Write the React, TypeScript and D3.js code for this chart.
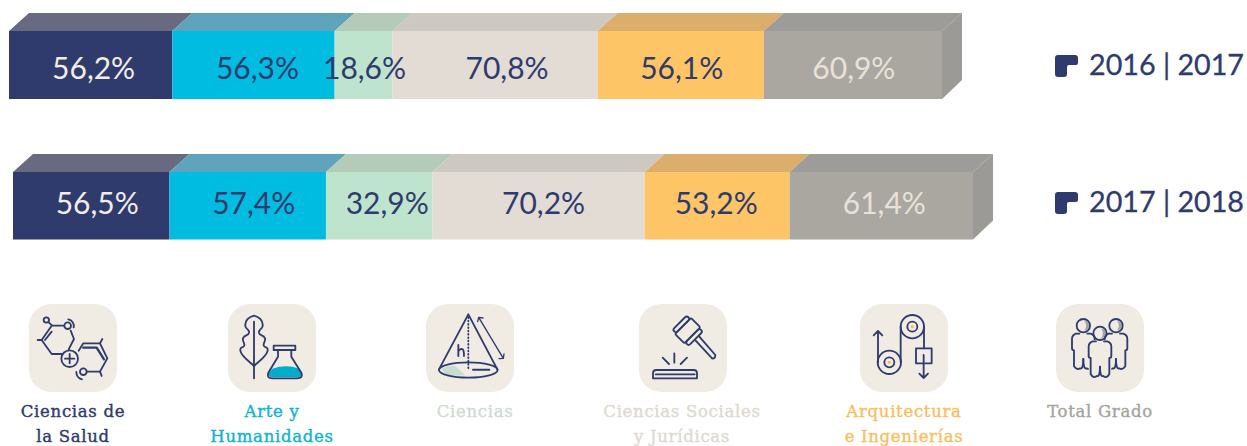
import React from "react";
import * as d3 from "d3";

const categories = ["Ciencias de la Salud", "Arte y Humanidades", "Ciencias", "Ciencias Sociales y Jurídicas", "Arquitectura e Ingenierías", "Total Grado"];
const categoryLines = [["Ciencias de", "la Salud"], ["Arte y", "Humanidades"], ["Ciencias"], ["Ciencias Sociales", "y Jurídicas"], ["Arquitectura", "e Ingenierías"], ["Total Grado"]];
const courses = ["2016 | 2017", "2017 | 2018"];
const values2016 = [56.2, 56.3, 18.6, 70.8, 56.1, 60.9];
const values2017 = [56.5, 57.4, 32.9, 70.2, 53.2, 61.4];
// The printed segments are not proportional to their labels, so their lengths are read separately (share of bar, %).
const shares2016 = [17.5, 17.4, 6.2, 22.0, 17.8, 19.1];
const shares2017 = [16.3, 16.3, 11.1, 22.1, 15.1, 19.1];
const frontColors = ["#2f3b6d", "#00bce1", "#bfe4cd", "#e2dcd5", "#fdc566", "#aaa6a0"];
const topColors = ["#676a80", "#5fa4ba", "#b5cbb9", "#cdc8c1", "#dcae6b", "#9e9c98"];
const valueColors = ["#f1ede6", "#2f3b6d", "#2f3b6d", "#2f3b6d", "#2f3b6d", "#e6e2da"];
const titleColors = ["#2f3b6d", "#12b3cf", "#cfdcd3", "#dedad3", "#f7bf62", "#a6a39d"];

const NAVY = "#2f3b6d";
const rows = [
  { values: values2016, shares: shares2016, x0: 9, x1: 942, yTop: 13, yFront: 31, yBottom: 99, baseline: 79, nudge: [3, 4, 1, 12, 1, 1], legendY: 55 },
  { values: values2017, shares: shares2017, x0: 13, x1: 973, yTop: 154, yFront: 172, yBottom: 239.5, baseline: 214, nudge: [6, 6, 8, 5, -1, 3], legendY: 192 },
];
const tileX = [29, 228, 426, 639, 860, 1056];
const titleX = [73, 272, 475, 682, 904, 1100];
const DEPTH = 20;

const line = { fill: "none", stroke: NAVY, strokeWidth: 5.5, strokeLinecap: "round", strokeLinejoin: "round" } as const;

// icon glyphs are drawn in a 3x grid whose origin is the tile corner
const Icon0 = () => (
  <g transform="translate(-87,-42)" {...line}>
    <circle cx="139" cy="90" r="8" />
    <path d="M146 97L157 107H190M212 122L222 147L206 178M185 192H155L125 150L155 107M135 150L155 125M113 150H125" />
    <circle cx="203" cy="107" r="10" /><path d="M205 88A20 20 0 0 1 221 112" />
    <circle cx="209" cy="206" r="25" /><path d="M209 192V220M195 206H223" />
    <path d="M236 182L250 160H300L322 205L300 245H262" /><path d="M300 160L307 147M300 245L305 258" />
    <circle cx="250" cy="245" r="10" /><path d="M246 268A22 22 0 0 1 229 246" />
    <path d="M250 173H290L312 208" strokeWidth="7" />
  </g>
);
const Icon1 = () => (
  <g transform="translate(-685,-42)" {...line}>
    <path d="M763 95V265" />
    <path d="M763 77C748 80 735 92 737 108C738 118 750 118 748 128C745 140 735 132 730 145C727 155 738 160 733 168C728 175 720 170 722 182C725 200 750 215 763 228C776 215 801 200 804 182C806 170 798 175 793 168C788 160 799 155 796 145C791 132 781 140 778 128C776 118 788 118 789 108C791 92 778 80 763 77Z" />
    <path d="M818 236Q860 222 898 236L905 252Q905 262 892 262H818Q805 262 808 250Z" fill="#00aecb" stroke="none" />
    <path d="M822 167H887V180H822ZM835 180V200L806 248Q800 265 818 265H892Q912 265 905 248L875 200V180" />
  </g>
);
const Icon2 = () => (
  <g transform="translate(-78,-42)" {...line}>
    <path d="M125 235Q150 226 165 228L195 255Q160 260 135 253Z" fill="#c9dcd1" stroke="none" />
    <path d="M117 238L205 73L292 238" />
    <ellipse cx="205" cy="240" rx="88" ry="23" />
    <path d="M205 82V242" strokeDasharray="2 8" />
    <path d="M175 165V198M175 185Q180 174 188 178Q192 181 192 198" />
    <path d="M219 239H268" strokeWidth="6" />
    <path d="M236 82L310 205M233 95L236 82L249 84M297 206L310 205L312 192" strokeWidth="4" />
  </g>
);
const Icon3 = () => (
  <g transform="translate(-716,-42)" {...line}>
    <g transform="rotate(45 862 122)">
      <rect x="842" y="88" width="40" height="68" rx="5" />
      <rect x="828" y="92" width="14" height="60" rx="7" />
      <rect x="882" y="92" width="14" height="60" rx="7" />
    </g>
    <path d="M884 150L936 206Q945 206 945 195L897 140" />
    <path d="M758 265V250Q758 240 768 240H880Q890 240 890 250V265ZM766 253H883" />
    <path d="M822 190V218M787 203L806 222M860 203L841 222" />
  </g>
);
const Icon4 = () => (
  <g transform="translate(-90,-42)" {...line}>
    <circle cx="247" cy="110" r="35" /><circle cx="247" cy="110" r="15" />
    <circle cx="247" cy="110" r="5" fill="#f7bf62" stroke="none" />
    <circle cx="178" cy="217" r="35" /><circle cx="178" cy="217" r="15" />
    <circle cx="178" cy="217" r="5" fill="#f7bf62" stroke="none" />
    <path d="M212 110V217M282 110V175" />
    <rect x="258" y="175" width="47" height="45" />
    <path d="M281 195V263M268 251L281 264L294 251" />
    <path d="M144 217V125M131 136L144 123L157 136" />
  </g>
);
const Person = ({ x, y, c }: { x: number; y: number; c: number }) => (
  <g>
    <path d={`M${x + 3} ${y - 14}A14 14 0 0 1 ${x + 3} ${y + 14}A20 20 0 0 0 ${x + 3} ${y - 14}Z`} fill="#a6a39d" stroke="none" />
    <circle cx={x} cy={y} r={20} />
    <path d={`M${x - 12} ${y + 24}H${x - 22}Q${x - 34} ${y + 28} ${x - 34} ${y + 40}V${y + 68}Q${x - 34} ${y + 74} ${x - 28} ${y + 74}V${y + 122}Q${x - 20} ${y + c} ${x - 10} ${y + 128}Q${x} ${y + 132} ${x} ${y + 100}`} />
    <path d={`M${x + 12} ${y + 24}H${x + 22}Q${x + 34} ${y + 28} ${x + 34} ${y + 40}V${y + 68}Q${x + 34} ${y + 74} ${x + 28} ${y + 74}V${y + 122}Q${x + 20} ${y + c} ${x + 10} ${y + 128}Q${x} ${y + 132} ${x} ${y + 100}`} />
  </g>
);
const Icon5 = () => (
  <g transform="translate(-678,-42)" {...line}>
    <Person x={760} y={107} c={134} />
    <Person x={858} y={107} c={134} />
    <g fill="none"><rect x="776" y="150" width="68" height="118" fill="#f0ece4" stroke="none" /></g>
    <Person x={810} y={130} c={137} />
  </g>
);
const icons = [Icon0, Icon1, Icon2, Icon3, Icon4, Icon5];

const fmt = (v: number) => v.toFixed(1).replace(".", ",") + "%";

export default function App() {
  return (
    <svg width={1247} height={446} viewBox="0 0 1247 446" style={{ position: "absolute", left: 0, top: 0, background: "#fff" }}>
      {rows.map((row, r) => {
        const x = d3.scaleLinear().domain([0, d3.sum(row.shares)]).range([row.x0, row.x1]);
        const edges = [0, ...d3.cumsum(row.shares)];
        return (
          <g key={courses[r]}>
            {row.shares.map((_, i) => {
              const a = x(edges[i]);
              const b = x(edges[i + 1]);
              return (
                <g key={categories[i]}>
                  <path d={`M${a} ${row.yFront}L${a + DEPTH} ${row.yTop}H${b + DEPTH}L${b} ${row.yFront}Z`} fill={topColors[i]} />
                  <rect x={a} y={row.yFront} width={b - a} height={row.yBottom - row.yFront} fill={frontColors[i]} />
                </g>
              );
            })}
            <path d={`M${row.x1} ${row.yFront}L${row.x1 + DEPTH} ${row.yTop}V${row.yBottom - 19}L${row.x1} ${row.yBottom}Z`} fill="#9c9a97" />
            {row.values.map((v, i) => (
              <text key={i} x={(x(edges[i]) + x(edges[i + 1])) / 2 + row.nudge[i]} y={row.baseline} textAnchor="middle"
                fontFamily="Lato" fontSize={30} fill={valueColors[i]}>{fmt(v)}</text>
            ))}
            <path transform={`translate(1055,${row.legendY})`} d="M3 0H20Q23 0 23 3V8Q23 10 21 10H14Q12 10 12 12V19Q12 22 9 22H3Q0 22 0 19V3Q0 0 3 0Z" fill={NAVY} />
            <text x={1089} y={row.legendY + 20} fontFamily="Lato" fontSize={28.7} stroke={NAVY} strokeWidth={0.3} fill={NAVY}>{courses[r]}</text>
          </g>
        );
      })}
      {categoryLines.map((lines, i) => {
        const Glyph = icons[i];
        return (
          <g key={categories[i]}>
            <rect x={tileX[i]} y={304} width={88} height={88} rx={22} fill="#f0ece4" />
            <g transform={`translate(${tileX[i]},304) scale(0.3333)`}><Glyph /></g>
            {lines.map((l, j) => (
              <text key={l} x={titleX[i]} y={417 + j * 25} textAnchor="middle" fontFamily="DejaVu Serif" fontSize={16.5} letterSpacing={0.7} stroke={titleColors[i]} strokeWidth={0.4} fill={titleColors[i]}>{l}</text>
            ))}
          </g>
        );
      })}
    </svg>
  );
}
